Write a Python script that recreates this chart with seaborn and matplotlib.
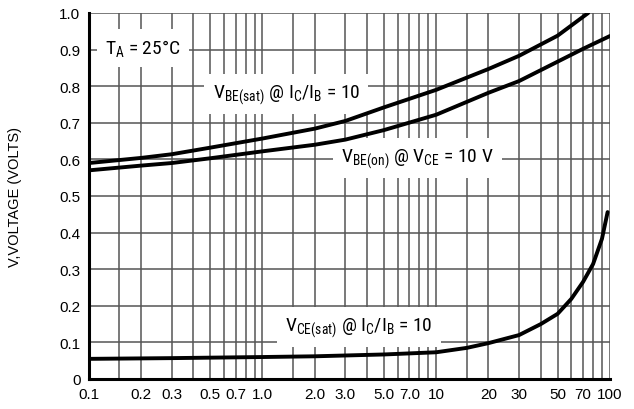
import matplotlib
matplotlib.use("Agg")
import matplotlib.pyplot as plt
import matplotlib.font_manager as fm
import seaborn as sns
import pandas as pd
from matplotlib.ticker import NullLocator, NullFormatter

# ---- data ----
ic_vbesat = [0.1, 0.2, 0.3, 0.5, 1.0, 2.0, 3.0, 5.0, 10, 20, 30, 50, 75]
v_vbesat = [0.590, 0.604, 0.614, 0.632, 0.657, 0.684, 0.705, 0.742, 0.790, 0.847, 0.883, 0.938, 1.0]

ic_vbeon = [0.1, 0.2, 0.3, 0.5, 1.0, 2.0, 3.0, 5.0, 10, 20, 30, 50, 70, 100]
v_vbeon = [0.570, 0.583, 0.590, 0.603, 0.622, 0.640, 0.654, 0.680, 0.722, 0.782, 0.814, 0.867, 0.902, 0.937]

ic_vcesat = [0.1, 0.3, 1.0, 2.0, 5.0, 10, 15, 20, 30, 40, 50, 60, 70, 80, 90, 97]
v_vcesat = [0.055, 0.057, 0.060, 0.062, 0.067, 0.073, 0.085, 0.098, 0.120, 0.150, 0.178, 0.219, 0.265, 0.314, 0.383, 0.456]

x_tick_values = [0.1, 0.2, 0.3, 0.5, 0.7, 1.0, 2.0, 3.0, 5.0, 7.0, 10, 20, 30, 50, 70, 100]
x_tick_labels = ["0.1", "0.2", "0.3", "0.5", "0.7", "1.0", "2.0", "3.0", "5.0", "7.0",
                 "10", "20", "30", "50", "70", "100"]
y_tick_values = [0, 0.1, 0.2, 0.3, 0.4, 0.5, 0.6, 0.7, 0.8, 0.9, 1.0]
y_tick_labels = ["0", "0.1", "0.2", "0.3", "0.4", "0.5", "0.6", "0.7", "0.8", "0.9", "1.0"]
x_grid_values = [m * d for d in (0.1, 1, 10) for m in (1, 1.5, 2, 3, 4, 5, 6, 7, 8, 9)] + [100]

sns.set_theme(style="white")
names = {f.name for f in fm.fontManager.ttflist}
narrow = "Liberation Sans"
for cand in ("Liberation Sans Narrow", "Roboto Condensed", "Open Sans Condensed",
             "Arial Narrow", "Noto Sans Display"):
    if cand in names:
        narrow = cand
        break
plt.rcParams["font.family"] = ["Liberation Sans", "DejaVu Sans"]
plt.rcParams["mathtext.fontset"] = "custom"
plt.rcParams["mathtext.rm"] = narrow
plt.rcParams["mathtext.it"] = narrow
plt.rcParams["mathtext.default"] = "regular"

fig = plt.figure(figsize=(6.34, 4.10), dpi=100)
ax = fig.add_axes([0.140, 0.0732, 0.822, 0.8927])

df = pd.concat([
    pd.DataFrame({"ic": ic_vbesat, "v": v_vbesat, "s": "vbesat"}),
    pd.DataFrame({"ic": ic_vbeon, "v": v_vbeon, "s": "vbeon"}),
    pd.DataFrame({"ic": ic_vcesat, "v": v_vcesat, "s": "vcesat"}),
])
sns.lineplot(data=df, x="ic", y="v", units="s", estimator=None, color="black",
             linewidth=2.8, ax=ax, zorder=4, legend=False, sort=False)

ax.set_xscale("log")
ax.set_xlim(0.1, 100)
ax.set_ylim(0, 1.0)

for xv in x_grid_values:
    ax.axvline(xv, color="#555555", linewidth=1.1, zorder=1)
for yv in y_tick_values[1:]:
    ax.axhline(yv, color="#555555", linewidth=1.1, zorder=1)

ax.set_xticks(x_tick_values)
ax.set_xticklabels(x_tick_labels)
ax.xaxis.set_minor_locator(NullLocator())
ax.xaxis.set_minor_formatter(NullFormatter())
ax.set_yticks(y_tick_values)
ax.set_yticklabels(y_tick_labels)
ax.tick_params(axis="both", length=0, labelsize=11, colors="black", pad=6)
ax.grid(False)

for side in ("top", "right"):
    ax.spines[side].set_visible(False)
for side in ("left", "bottom"):
    ax.spines[side].set_color("black")
    ax.spines[side].set_linewidth(2.2)
    ax.spines[side].set_zorder(5)

ax.set_xlabel("")
ax.set_ylabel("V,VOLTAGE (VOLTS)", fontsize=10.5, color="black")
ax.yaxis.set_label_coords(-0.129, 0.5)

box = dict(facecolor="white", edgecolor="none", pad=6)
txt = dict(fontsize=14, color="black", family=narrow, zorder=3, va="center", ha="center", bbox=box)
ax.text(0.205, 0.905, r"$T_A$ = 25°C", **txt)
ax.text(1.37, 0.778, r"$V_{BE(sat)}$ @ $I_C$/$I_B$ = 10", **txt)
ax.text(7.8, 0.603, r"$V_{BE(on)}$ @ $V_{CE}$ = 10 V", **txt)
ax.text(3.6, 0.142, r"$V_{CE(sat)}$ @ $I_C$/$I_B$ = 10", **txt)

fig.savefig("out.png", dpi=100, facecolor="white")
